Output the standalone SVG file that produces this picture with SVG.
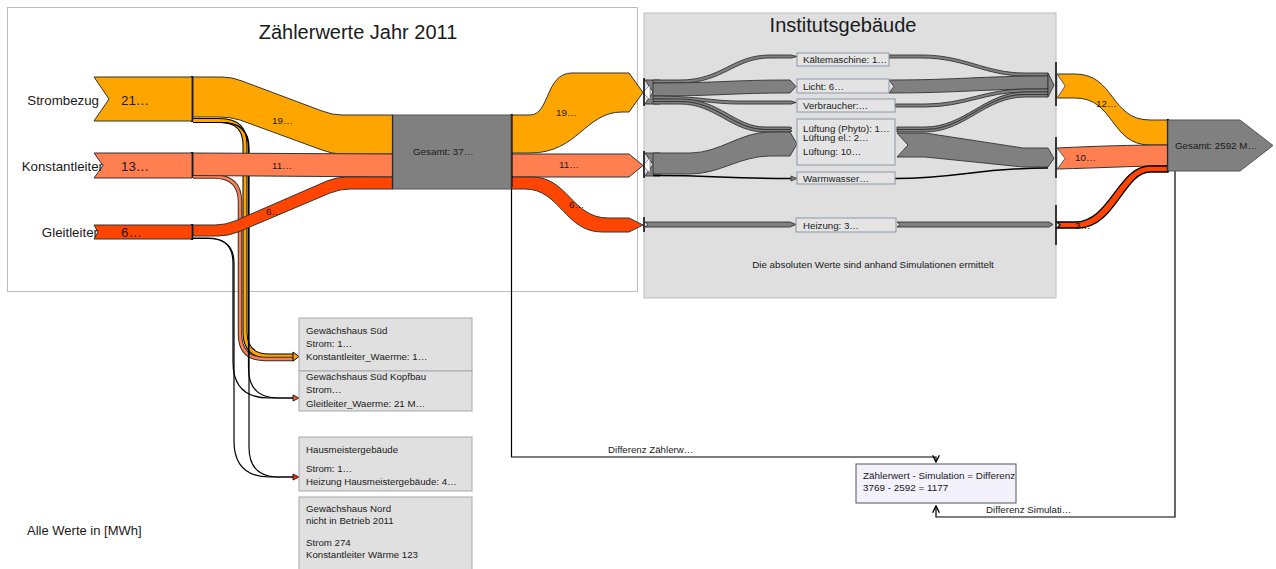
<svg xmlns="http://www.w3.org/2000/svg" width="1276" height="569" viewBox="0 0 1276 569">
<style>
.t{font-family:"Liberation Sans",Arial,sans-serif;fill:#1a1a1a}
.s12{font-size:13.3px}.s9{font-size:9.8px}.s19{font-size:20px}.b{font-size:9.7px}
.or{fill:#FFA500;stroke:#333;stroke-width:1}
.co{fill:#FF7F50;stroke:#333;stroke-width:1}
.rd{fill:#FF4500;stroke:#333;stroke-width:1}
.gr{fill:#808080;stroke:#333;stroke-width:0.9}
.bar{stroke:#000;stroke-width:2.2}
.ln{fill:none;stroke:#000;stroke-width:1.2}
.box{fill:#e4e4e4;stroke:#8a98a8;stroke-width:1}
.lbox{fill:#e0e0e0;stroke:#a8a8a8;stroke-width:1}
</style>
<defs>
<marker id="ah" viewBox="0 0 10 10" refX="9" refY="5" markerWidth="7" markerHeight="7" orient="auto-start-reverse"><path d="M1,1 L9,5 L1,9" fill="none" stroke="#000" stroke-width="1.6"/></marker>
<clipPath id="dclip"><rect x="856" y="464" width="160" height="39"/></clipPath>
</defs>
<rect width="1276" height="569" fill="#fff"/>

<g id="container-zaehler">
<rect x="7.5" y="7.5" width="630" height="284" fill="#fff" stroke="#bdbdbd"/>
<text class="t s19" x="358" y="39" text-anchor="middle">Zählerwerte Jahr 2011</text>
</g>
<g id="container-institut">
<rect x="644" y="13" width="412" height="285" fill="#dfdfdf" stroke="#bdbdbd"/>
<text class="t s19" x="843" y="32" text-anchor="middle">Institutsgebäude</text>
<text class="t s9" x="873" y="268" text-anchor="middle">Die absoluten Werte sind anhand Simulationen ermittelt</text>
</g>

<g id="connectors">
<path d="M193,120.5 H220 Q245,120.5 245,145 V332 Q245,356 269,356 H294" fill="none" stroke="#000" stroke-width="5"/>
<path d="M193,120.5 H220 Q245,120.5 245,145 V332 Q245,356 269,356 H294" fill="none" stroke="#FFA500" stroke-width="3"/>
<path d="M193,176.5 H214 Q240,176.5 240,202 V334 Q240,359 265,359 H294" fill="none" stroke="#333" stroke-width="4.5"/>
<path d="M193,176.5 H214 Q240,176.5 240,202 V334 Q240,359 265,359 H294" fill="none" stroke="#FF7F50" stroke-width="2.5"/>
<path class="ln" d="M193,122.5 H222 Q248.5,122.5 248.5,148 V368 Q248.5,398 278,398 H294"/>
<path class="ln" d="M193,122.5 H222 Q249,122.5 249,148 V447 Q249,477 278,477 H294"/>
<path class="ln" d="M193,238 H208 Q233,238 233,263 V362 Q233,398 269,398 H294"/>
<path class="ln" d="M193,238.5 H208 Q234,238.5 234,263 V441 Q234,477 270,477 H294"/>
<polygon points="293,352 299,356.5 293,361" fill="#FFA500" stroke="#000" stroke-width="1"/>
<polygon points="293,395 299,398 293,401" fill="#FF6020" stroke="#000" stroke-width="0.8"/>
<polygon points="293,474 299,477 293,480" fill="#FF3000" stroke="#000" stroke-width="0.8"/>

<path class="or" d="M193,77 H222 Q232,77 242,81 L322,111 Q332,115 342,115 H393 V154 H342 Q332,154 322,150 L240,120 Q230,117 220,117 H193 Z"/>
<path class="co" d="M193,153 L393,154 V177 L193,175.5 Z"/>
<path class="rd" d="M193,225 H215 Q225,225 235,221 L327,181 Q337,177 347,177 H393 V189 H350 Q340,189 330,193 L238,232 Q228,236 218,236 H193 Z"/>
<path class="or" d="M511,115 H530 C550,115 545,73 572,73 H629 L643,92.5 L629,112 H622 C585,112 578,153 530,153 H511 Z"/>
<path class="co" d="M511,154 H629 L643,165.5 L629,177 H511 Z"/>
<path class="rd" d="M511,177 H532 C568,177 572,218 608,218 H629 L643,225 L629,232 H602 C565,232 560,189 525,189 H511 Z"/>

<polygon class="gr" points="645,80 660,80 660,104 645,104 653,92"/>
<polygon class="gr" points="645,153 660,153 660,176 645,176 653,164.5"/>
<path class="gr" d="M653,80 H680 C722,80 732,55 770,55 H791 L797,56.5 L791,58 H770 C734,58 724,83 680,83 H653 Z"/>
<path class="gr" d="M653,83 C720,83 730,80 790,80 L796,86.5 L790,93 C730,93 720,96 653,96 Z"/>
<path class="gr" d="M653,96 C700,96 710,101 740,101 H791 L796,102.5 L791,104 H740 C710,104 700,99 653,99 Z"/>
<path class="gr" d="M653,99 H680 C720,99 735,127 765,127 H790 L792,128 L790,129.5 H765 C733,129.5 718,101.5 680,101.5 H653 Z"/>
<path class="gr" d="M653,101.5 H680 C718,101.5 733,129.5 765,129.5 H790 L792,131 L790,132 H765 C731,132 716,104 680,104 H653 Z"/>
<path class="gr" d="M653,153 H690 C720,153 740,132 770,132 H790 L797,144 L790,156 H770 C740,156 720,174 690,174 H653 Z"/>
<path d="M653,175.5 C720,175.5 720,178.5 791,178.5" fill="none" stroke="#000" stroke-width="1.5"/>
<polygon points="791,176 797,178.5 791,181" fill="#808080" stroke="#333" stroke-width="0.8"/>
<path class="gr" d="M645,222 H790 L796,224.5 L790,227 H645 L648,224.5 Z"/>

<path class="gr" d="M889,55 H922 C965,55 985,73 1025,73 H1048 V76 H1025 C985,76 965,58 922,58 H889 Z"/>
<path class="gr" d="M889,80 C960,80 980,76 1048,76 V89 C980,89 960,93 889,93 L894,86.5 Z"/>
<path class="gr" d="M895,104 H925 C965,104 985,89 1025,89 H1048 V92 H1025 C985,92 965,107 925,107 H895 Z"/>
<path class="gr" d="M897,127 H925 C965,127 985,92 1025,92 H1048 V94.5 H1025 C985,94.5 965,129.5 925,129.5 H897 Z"/>
<path class="gr" d="M897,129.5 H925 C965,129.5 985,94.5 1025,94.5 H1048 V97 H1025 C985,97 965,132 925,132 H897 Z"/>
<polygon class="gr" points="1048,73 1054,85 1048,97"/>
<path class="gr" d="M897,133 H925 L1023,148 H1048 L1054,158.5 L1048,167 H1023 L925,157 H897 L908,145 Z"/>
<path d="M895,178.5 C960,178.5 975,168 1048,168" fill="none" stroke="#000" stroke-width="1.5"/>
<path class="gr" d="M897,222 H1049 L1053,224.5 L1049,227 H897 L900,224.5 Z"/>

<path class="or" d="M1057,74 H1075 C1115,74 1110,120 1150,120 H1168 V145 H1150 C1110,145 1115,98 1075,98 H1057 L1065,86 Z"/>
<path class="co" d="M1057,148 C1100,146 1130,145 1168,145 V166 C1130,166 1100,168 1057,169 L1065,158.5 Z"/>
<path d="M1057,222 H1075 C1110,222 1118,166 1150,166 H1168 V172 H1150 C1124,172 1115,228 1078,228 H1057 L1060,225 Z" fill="#FF4500" stroke="#000" stroke-width="1.3"/>
<polygon points="643,92.5 650,85 650,100" fill="#fff" stroke="#555" stroke-width="0.6"/>
<polygon points="643,165.5 650,158 650,173" fill="#fff" stroke="#555" stroke-width="0.6"/>
<polygon points="1057,74 1065,86 1057,98" fill="#fff" stroke="#555" stroke-width="0.6"/>
<polygon points="1057,148 1065,158.5 1057,169" fill="#fff" stroke="#555" stroke-width="0.6"/>

<line class="bar" x1="192" y1="76" x2="192" y2="122"/>
<line class="bar" x1="192" y1="152" x2="192" y2="178"/>
<line class="bar" x1="192" y1="224" x2="192" y2="240"/>
<line class="bar" x1="393" y1="115" x2="393" y2="189"/>
<line class="bar" x1="511.5" y1="114" x2="511.5" y2="187"/>
<line x1="644" y1="78" x2="644" y2="106" stroke="#000" stroke-width="1.5"/>
<line x1="644" y1="151" x2="644" y2="178" stroke="#000" stroke-width="1.5"/>
<line x1="644" y1="217" x2="644" y2="232" stroke="#000" stroke-width="1.5"/>
<line x1="1056" y1="62" x2="1056" y2="106" stroke="#000" stroke-width="1.5"/>
<line x1="1056" y1="137" x2="1056" y2="178" stroke="#000" stroke-width="1.5"/>
<line x1="1056" y1="205" x2="1056" y2="245" stroke="#000" stroke-width="1.5"/>
<line class="bar" x1="1168" y1="119" x2="1168" y2="172"/>

<path class="ln" d="M511.5,187 V457 H936 V462" marker-end="url(#ah)"/>
<path class="ln" d="M1175,171 V517 H936 V506" marker-end="url(#ah)"/>

<text class="t s9" x="272" y="124">19…</text>
<text class="t s9" x="272" y="169">11…</text>
<text class="t s9" x="266" y="215">6…</text>
<text class="t s9" x="556" y="116">19…</text>
<text class="t s9" x="559" y="168">11…</text>
<text class="t s9" x="569" y="208">6…</text>
<text class="t s9" x="1096" y="107">12…</text>
<text class="t s9" x="1075" y="161">10…</text>
<text class="t s9" x="1075" y="229">3…</text>
<text class="t b" x="608" y="453">Differenz Zählerw…</text>
<text class="t b" x="986" y="513">Differenz Simulati…</text>
</g>

<g id="node-strombezug">
<polygon class="or" points="94,77 192,77 192,121 94,121 109,99"/>
<text class="t s12" x="99" y="105" text-anchor="end">Strombezug</text>
<text class="t s12" x="121" y="105">21…</text>
</g>
<g id="node-konstantleiter">
<polygon class="co" points="94,153 192,153 192,178 94,178 103,165.5"/>
<text class="t s12" x="103" y="171" text-anchor="end">Konstantleiter</text>
<text class="t s12" x="121" y="171">13…</text>
</g>
<g id="node-gleitleiter">
<polygon class="rd" points="94,225 192,225 192,239 94,239 98,232"/>
<text class="t s12" x="98" y="237" text-anchor="end">Gleitleiter</text>
<text class="t s12" x="121" y="237">6…</text>
</g>
<g id="node-gesamt-zaehler">
<rect x="393" y="115" width="118" height="74" fill="#808080" stroke="#555"/>
<text class="t s9" x="413" y="155">Gesamt: 37…</text>
</g>
<g id="node-kaeltemaschine">
<rect class="box" x="797" y="53" width="92" height="13"/>
<text class="t b" x="803" y="63">Kältemaschine: 1…</text>
</g>
<g id="node-licht">
<rect class="box" x="797" y="79" width="92" height="14"/>
<text class="t b" x="803" y="89.5">Licht: 6…</text>
</g>
<g id="node-verbraucher">
<rect class="box" x="797" y="99" width="98" height="13"/>
<text class="t b" x="803" y="109">Verbraucher:…</text>
</g>
<g id="node-lueftung">
<rect class="box" x="797" y="119" width="98" height="46"/>
<text class="t b" x="803" y="132">Lüftung (Phyto): 1…</text>
<text class="t b" x="803" y="141">Lüftung el.: 2…</text>
<text class="t b" x="803" y="155">Lüftung: 10…</text>
</g>
<g id="node-warmwasser">
<rect class="box" x="797" y="172" width="98" height="12"/>
<text class="t b" x="803" y="181.5">Warmwasser…</text>
</g>
<g id="node-heizung">
<rect class="box" x="796" y="218" width="100" height="14"/>
<text class="t b" x="803" y="228.5">Heizung: 3…</text>
</g>
<g id="node-gesamt-sim">
<polygon points="1168,120 1240,120 1273,145.5 1240,171 1168,171" fill="#808080" stroke="#555"/>
<text class="t s9" x="1175" y="149">Gesamt: 2592 M…</text>
</g>
<g id="node-gewaechshaus-sued">
<rect class="lbox" x="299" y="318" width="173" height="53"/>
<text class="t b" x="306" y="334">Gewächshaus Süd</text>
<text class="t b" x="306" y="347">Strom: 1…</text>
<text class="t b" x="306" y="360">Konstantleiter_Waerme: 1…</text>
</g>
<g id="node-gewaechshaus-sued-kopfbau">
<rect class="lbox" x="299" y="371" width="173" height="40"/>
<text class="t b" x="306" y="380">Gewächshaus Süd Kopfbau</text>
<text class="t b" x="306" y="393">Strom…</text>
<text class="t b" x="306" y="407">Gleitleiter_Waerme: 21 M…</text>
</g>
<g id="node-hausmeister">
<rect class="lbox" x="299" y="437" width="173" height="54"/>
<text class="t b" x="306" y="453">Hausmeistergebäude</text>
<text class="t b" x="306" y="472">Strom: 1…</text>
<text class="t b" x="306" y="485">Heizung Hausmeistergebäude: 4…</text>
</g>
<g id="node-gewaechshaus-nord">
<rect class="lbox" x="299" y="497" width="173" height="75"/>
<text class="t b" x="306" y="512">Gewächshaus Nord</text>
<text class="t b" x="306" y="524">nicht in Betrieb 2011</text>
<text class="t b" x="306" y="546">Strom 274</text>
<text class="t b" x="306" y="558">Konstantleiter Wärme 123</text>
</g>
<g id="node-differenz">
<rect x="856" y="464" width="160" height="39" fill="#f3f1fb" stroke="#555"/>
<g clip-path="url(#dclip)">
<text class="t" style="font-size:9.9px" x="863" y="479">Zählerwert - Simulation = Differenz</text>
<text class="t" style="font-size:9.9px" x="863" y="491">3769 - 2592 = 1177</text>
</g>
</g>
<text class="t" style="font-size:13px" x="27" y="535">Alle Werte in [MWh]</text>
</svg>
